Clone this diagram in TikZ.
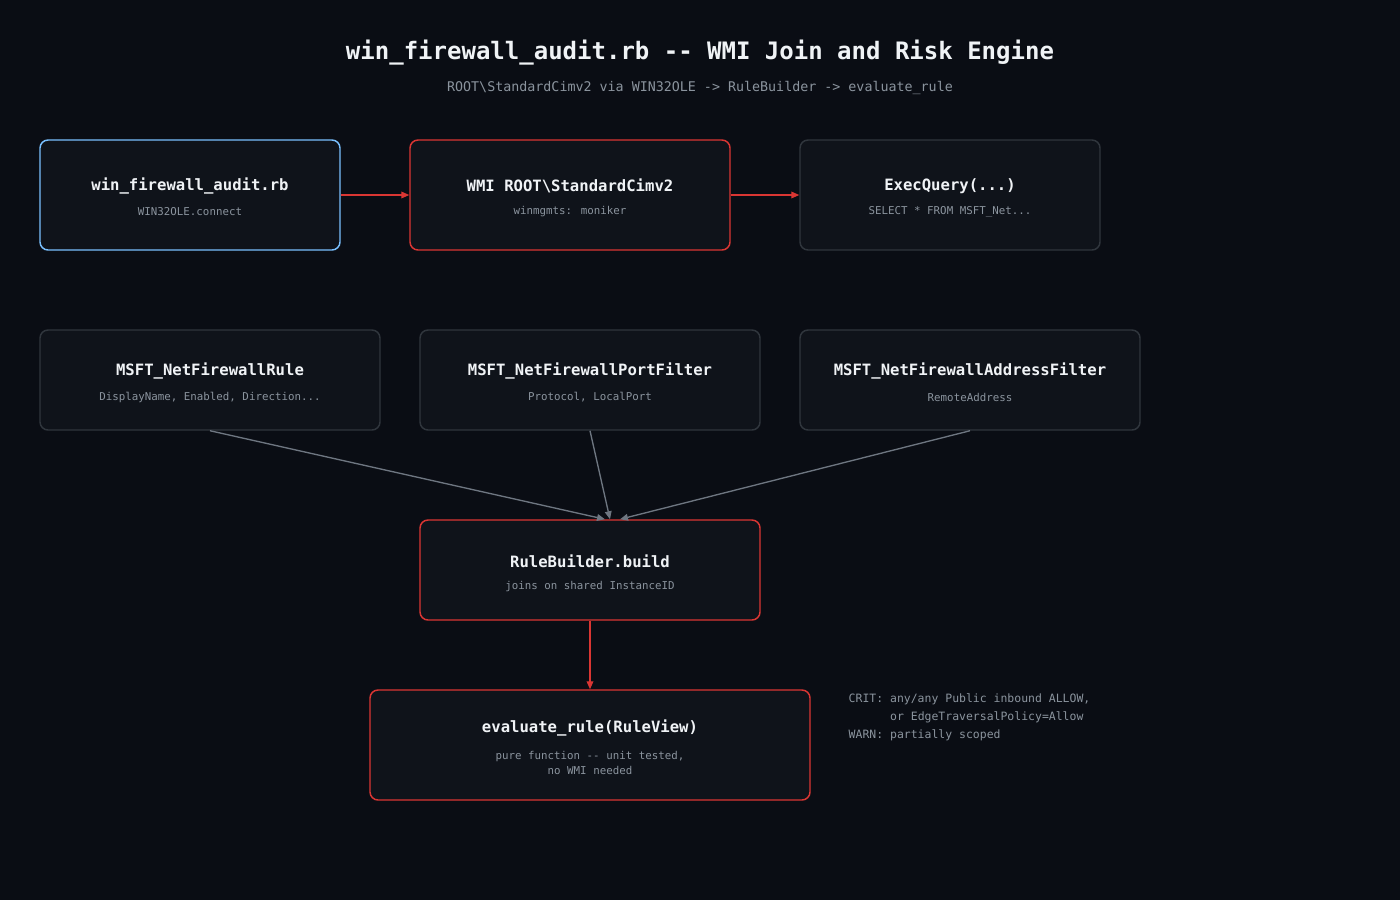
\documentclass[tikz,border=0pt]{standalone}
\usepackage{fontspec}
\setmainfont{DejaVu Sans Mono}
\usetikzlibrary{arrows.meta,calc}
\definecolor{bg}{HTML}{0A0D14}
\definecolor{boxbg}{HTML}{0F131A}
\definecolor{bluec}{HTML}{79C0FF}
\definecolor{redc}{HTML}{DA3633}
\definecolor{greyc}{HTML}{30363D}
\definecolor{arrg}{HTML}{6E7681}
\definecolor{titc}{HTML}{F0F3F6}
\definecolor{subc}{HTML}{8B949E}
\begin{document}
\begin{tikzpicture}[x=0.75pt,y=-0.75pt,
  box/.style={draw,fill=boxbg,rounded corners=6pt,line width=1.1pt,inner sep=0pt},
  ttl/.style={text=titc,font=\fontsize{11.7}{13}\selectfont\bfseries},
  sub/.style={text=subc,font=\fontsize{8.1}{11.5}\selectfont,align=center},
  ra/.style={draw=redc,line width=1pt,-{Triangle[length=6pt,width=5pt]}},
  ga/.style={draw=arrg,line width=1pt,-{Triangle[length=6pt,width=5pt]}}]
\fill[bg] (0,0) rectangle (1400,900);
\useasboundingbox (0,0) rectangle (1400,900);
\node[text=titc,font=\fontsize{18}{20}\selectfont\bfseries] (t) at (700,53) {win\_firewall\_audit.rb -{}- WMI Join and Risk Engine};
\node[text=subc,font=\fontsize{10}{12}\selectfont] (st) at (700,88) {ROOT\textbackslash StandardCimv2 via WIN32OLE -> RuleBuilder -> evaluate\_rule};
% boxes
\node[box,draw=bluec,minimum width=300*0.75pt,minimum height=110*0.75pt] (a) at (190,195) {};
\node[box,draw=redc,minimum width=320*0.75pt,minimum height=110*0.75pt] (b) at (570,195) {};
\node[box,draw=greyc,minimum width=300*0.75pt,minimum height=110*0.75pt] (c) at (950,195) {};
\node[box,draw=greyc,minimum width=340*0.75pt,minimum height=100*0.75pt] (d) at (210,380) {};
\node[box,draw=greyc,minimum width=340*0.75pt,minimum height=100*0.75pt] (e) at (590,380) {};
\node[box,draw=greyc,minimum width=340*0.75pt,minimum height=100*0.75pt] (f) at (970,380) {};
\node[box,draw=redc,minimum width=340*0.75pt,minimum height=100*0.75pt] (g) at (590,570) {};
\node[box,draw=redc,minimum width=440*0.75pt,minimum height=110*0.75pt] (h) at (590,745) {};
% texts
\node[ttl] (at) at (190,186) {win\_firewall\_audit.rb};
\node[sub] (as) at (190,212) {WIN32OLE.connect};
\node[ttl] (bt) at (570,186) {WMI ROOT\textbackslash StandardCimv2};
\node[sub] (bs) at (570,212) {winmgmts: moniker};
\node[ttl] (ct) at (950,186) {ExecQuery(...)};
\node[sub] (cs) at (950,212) {SELECT * FROM MSFT\_Net...};
\node[ttl] (dt) at (210,371) {MSFT\_NetFirewallRule};
\node[sub] (ds) at (210,397) {DisplayName, Enabled, Direction...};
\node[ttl] (et) at (590,371) {MSFT\_NetFirewallPortFilter};
\node[sub] (es) at (590,397) {Protocol, LocalPort};
\node[ttl] (ft) at (970,371) {MSFT\_NetFirewallAddressFilter};
\node[sub] (fs) at (970,397) {RemoteAddress};
\node[ttl] (gt) at (590,561) {RuleBuilder.build};
\node[sub] (gs) at (590,587) {joins on shared InstanceID};
\node[ttl] (ht) at (590,728) {evaluate\_rule(RuleView)};
\node[sub] (hs) at (590,763) {pure function -{}- unit tested,\\no WMI needed};
\node[text=subc,font=\fontsize{8.6}{13.5}\selectfont,align=left,anchor=north west] (note) at (844,689)
 {CRIT: any/any Public inbound ALLOW,\\\phantom{CRIT: }or EdgeTraversalPolicy=Allow\\WARN: partially scoped};
% connectors
\draw[ra] (a.east) -- (b.west);
\draw[ra] (b.east) -- (c.west);
\draw[ga] (d.south) -- ($(g.north)+(15,0)$);
\draw[ga] (e.south) -- ($(g.north)+(20,0)$);
\draw[ga] (f.south) -- ($(g.north)+(30,0)$);
\draw[ra] (g.south) -- (h.north);
\end{tikzpicture}
\end{document}
